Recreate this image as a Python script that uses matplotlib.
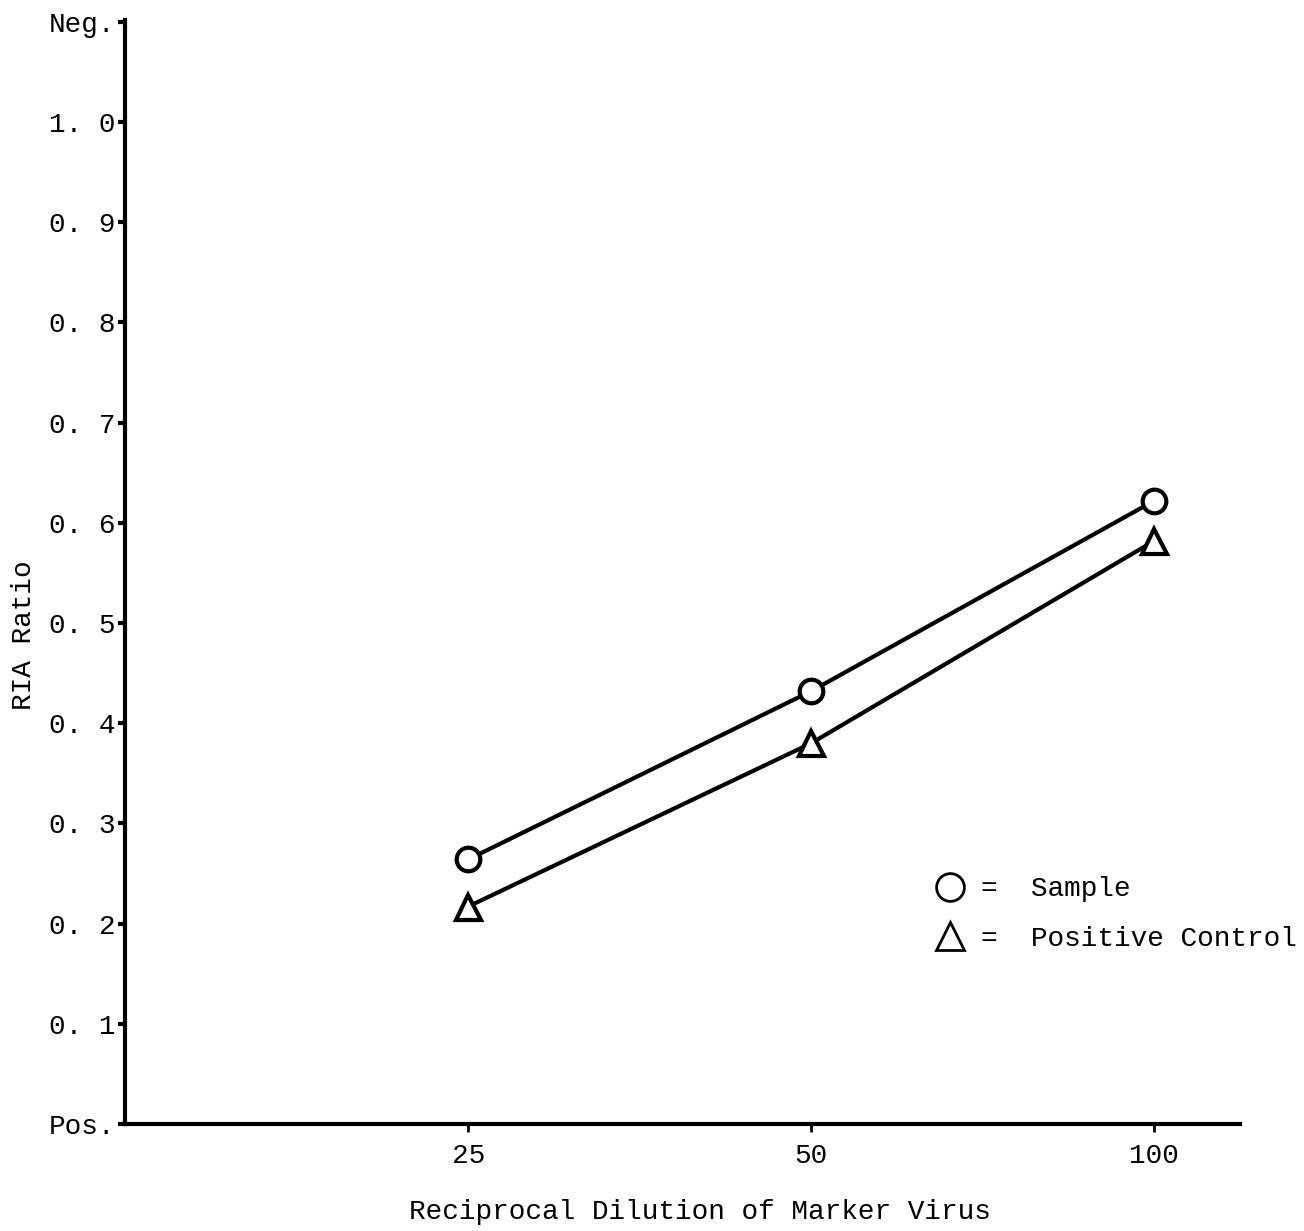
import matplotlib
matplotlib.use('agg')
import matplotlib.pyplot as plt
from matplotlib.lines import Line2D

# data
dilution = [25, 50, 100]
sample = [0.264, 0.432, 0.622]
pos_control = [0.217, 0.380, 0.582]

yticks = [0.0, 0.1, 0.2, 0.3, 0.4, 0.5, 0.6, 0.7, 0.8, 0.9, 1.0, 1.1]
ylabels = ['Pos.', '0. 1', '0. 2', '0. 3', '0. 4', '0. 5', '0. 6',
           '0. 7', '0. 8', '0. 9', '1. 0', 'Neg.']
xlabels = ['25', '50', '100']

plt.rcParams['font.family'] = ['Liberation Mono', 'DejaVu Sans Mono']
plt.rcParams['font.size'] = 20

fig = plt.figure(figsize=(13.04, 12.31), dpi=100)
ax = fig.add_axes([0.0959, 0.0869, 0.951 - 0.0959, 0.984 - 0.0869])

ax.plot(dilution, sample, color='black', lw=3, marker='o', ms=17,
        mfc='white', mec='black', mew=3)
ax.plot(dilution, pos_control, color='black', lw=3, marker='^', ms=18,
        mfc='white', mec='black', mew=3)

ax.set_xscale('log', base=2)
ax.set_xlim(12.5, 100 * 2 ** 0.25)
ax.set_ylim(0, 1.102)
ax.set_xticks(dilution)
ax.set_xticklabels(xlabels)
ax.minorticks_off()
ax.set_yticks(yticks)
ax.set_yticklabels(ylabels)

for s in ['top', 'right']:
    ax.spines[s].set_visible(False)
for s in ['left', 'bottom']:
    ax.spines[s].set_linewidth(3)

ax.tick_params(axis='y', length=5, width=3, pad=2)
ax.tick_params(axis='x', length=6, width=2, pad=8)

ax.set_ylabel('RIA Ratio')
ax.yaxis.set_label_coords(-0.079, 0.443)
ax.set_xlabel('Reciprocal Dilution of Marker Virus')
ax.xaxis.set_label_coords(0.516, -0.068)

handles = [Line2D([], [], ls='none', marker='o', ms=20, mfc='white',
                  mec='black', mew=2),
           Line2D([], [], ls='none', marker='^', ms=20, mfc='white',
                  mec='black', mew=2)]
ax.legend(handles, ['=  Sample', '=  Positive Control'], loc='center left',
          bbox_to_anchor=(0.705, 0.19), frameon=False, handlelength=1,
          handletextpad=0.6, labelspacing=0.85)

plt.savefig('out.png', dpi=100)
